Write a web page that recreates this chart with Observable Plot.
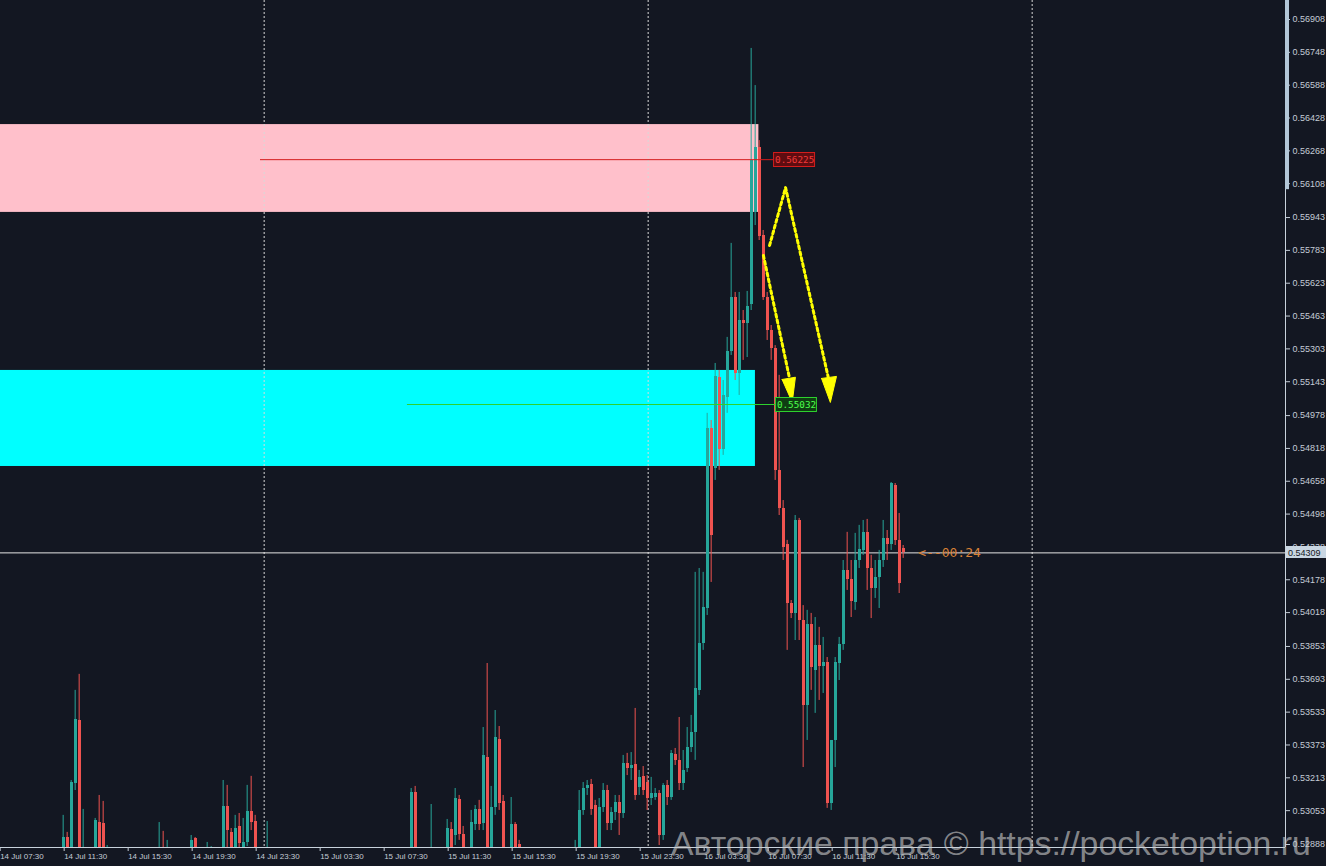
<!DOCTYPE html>
<html><head><meta charset="utf-8">
<script src="https://cdn.jsdelivr.net/npm/d3@7"></script>
<script src="https://cdn.jsdelivr.net/npm/@observablehq/plot@0.6"></script>
<style>
html,body{margin:0;padding:0;background:#131722;}
#wrap{position:relative;width:1326px;height:866px;overflow:hidden;background:#131722;}
#wm{position:absolute;left:671px;top:826px;font:33.8px/34px "Liberation Sans",Arial,sans-serif;color:rgba(205,205,205,0.62);white-space:nowrap;pointer-events:none;}
</style></head><body><div id="wrap"><div id="wm">Авторские права © https://pocketoption.ru</div></div>
<script>
// ---- data ----
const barIdx = [15,16,17,18,19,20,23,24,25,26,39,40,41,47,48,51,52,55,56,57,58,59,60,61,62,63,66,
102,103,107,111,112,113,114,115,117,118,119,120,121,122,123,124,125,127,128,129,
143,144,145,146,147,148,149,150,151,152,153,154,155,156,157,158,159,160,161,162,163,164,165,166,167,168,169,170,
171,172,173,174,175,176,177,178,179,180,181,182,183,184,185,186,187,188,189,190,191,192,193,194,195,196,197,198,
199,200,201,202,203,204,205,206,207,208,209,210,211,212,213,214,215,216,217,218,219,220,221,222,223,224,225];
const open = [0.52859,0.52922,0.52859,0.53185,0.53492,0.52835,0.52810,0.52995,0.52991,0.52810,0.52810,0.52835,0.52780,0.52810,0.52917,0.52790,0.52790,0.52810,0.53073,0.52947,0.52835,0.52976,0.52859,0.52898,0.53049,0.53000,0.52790,
0.52810,0.53142,0.52790,0.52810,0.52961,0.52932,0.53107,0.52937,0.52810,0.52986,0.53059,0.52991,0.53312,0.52810,0.53068,0.53400,0.53098,0.52810,0.52986,0.52888,
0.52810,0.52810,0.53054,0.53161,0.53181,0.53078,0.52873,0.53068,0.53151,0.52991,0.53044,0.53093,0.53039,0.53283,0.53259,0.53278,0.53166,0.53220,0.53190,0.53112,0.53117,0.53137,0.52932,0.53176,0.53117,0.53327,0.53298,0.53185,
0.53259,0.53361,0.53434,0.53639,0.53868,0.54038,0.54915,0.54720,0.55164,0.54813,0.55066,0.55291,0.55554,0.55183,0.55442,0.55427,0.55519,0.55968,0.56284,0.55856,0.55554,0.55393,0.55305,0.54711,0.54525,0.54350,0.54063,0.54014,
0.54467,0.53980,0.53566,0.53960,0.53736,0.53858,0.53756,0.53775,0.53088,0.53395,0.53770,0.53863,0.54223,0.54180,0.54067,0.54272,0.54321,0.54409,0.54233,0.54136,0.54189,0.54272,0.54379,0.54350,0.54638,0.54370,0.54331];
const high = [0.53030,0.52947,0.53200,0.53639,0.53717,0.53059,0.53015,0.53127,0.53098,0.52883,0.52995,0.52952,0.52908,0.52932,0.52922,0.52898,0.52878,0.53200,0.53176,0.52966,0.53030,0.53039,0.53015,0.53176,0.53220,0.53030,0.53000,
0.53161,0.53171,0.53083,0.53010,0.52995,0.53161,0.53127,0.52976,0.53054,0.53078,0.53103,0.53458,0.53770,0.53171,0.53541,0.53463,0.53127,0.53117,0.52995,0.52908,
0.52908,0.53151,0.53190,0.53200,0.53205,0.53103,0.53112,0.53185,0.53176,0.53068,0.53127,0.53127,0.53322,0.53332,0.53336,0.53551,0.53249,0.53268,0.53224,0.53215,0.53161,0.53151,0.53185,0.53200,0.53346,0.53356,0.53507,0.53346,
0.53458,0.53517,0.54214,0.54233,0.54214,0.54989,0.54954,0.55232,0.55198,0.55149,0.55359,0.55817,0.55578,0.55578,0.55490,0.55583,0.56767,0.56586,0.56318,0.55880,0.55578,0.55417,0.55319,0.55174,0.54564,0.54370,0.54077,0.54491,
0.54477,0.54052,0.54029,0.54014,0.53994,0.53946,0.53897,0.53799,0.53395,0.53799,0.53897,0.54272,0.54409,0.54272,0.54404,0.54443,0.54467,0.54472,0.54297,0.54272,0.54321,0.54467,0.54418,0.54652,0.54647,0.54501,0.54345];
const low = [0.52810,0.52810,0.52810,0.53151,0.52762,0.52762,0.52762,0.52762,0.52762,0.52762,0.52762,0.52762,0.52762,0.52762,0.52762,0.52762,0.52762,0.52762,0.52859,0.52762,0.52762,0.52835,0.52810,0.52878,0.52956,0.52762,0.52762,
0.52762,0.52762,0.52762,0.52762,0.52762,0.52883,0.52908,0.52762,0.52762,0.52956,0.52956,0.52956,0.52762,0.52762,0.53030,0.53054,0.52762,0.52762,0.52762,0.52762,
0.52762,0.52762,0.53030,0.53127,0.53030,0.52762,0.52810,0.53044,0.52956,0.52956,0.53005,0.52932,0.53015,0.53224,0.53200,0.53103,0.53127,0.53127,0.53054,0.53078,0.53103,0.52883,0.52908,0.53078,0.53103,0.53273,0.53151,0.53151,
0.53239,0.53336,0.53298,0.53614,0.53834,0.54004,0.54165,0.54662,0.54711,0.54784,0.54989,0.55271,0.55149,0.55076,0.55247,0.55261,0.55490,0.55904,0.55831,0.55539,0.55344,0.55247,0.54662,0.54491,0.54272,0.53834,0.53989,0.53882,
0.53882,0.53263,0.53395,0.53639,0.53527,0.53590,0.53624,0.53064,0.53054,0.53263,0.53687,0.53834,0.54126,0.53994,0.54029,0.54233,0.54297,0.54126,0.53989,0.54087,0.54038,0.54238,0.54272,0.54321,0.54345,0.54111,0.54282];
const close = [0.52922,0.52859,0.53190,0.53497,0.52810,0.52859,0.53005,0.52810,0.52810,0.52859,0.52835,0.52810,0.52800,0.52908,0.52810,0.52810,0.52810,0.53073,0.52956,0.52810,0.52966,0.52893,0.52898,0.53049,0.52995,0.52810,0.52810,
0.53142,0.52810,0.52810,0.52966,0.52810,0.53112,0.52937,0.52810,0.52995,0.53059,0.52986,0.53322,0.52810,0.53068,0.53410,0.53088,0.52810,0.52986,0.52810,0.52810,
0.52859,0.53054,0.53161,0.53176,0.53059,0.52873,0.53068,0.53151,0.52991,0.53044,0.53093,0.53039,0.53283,0.53259,0.53273,0.53127,0.53215,0.53151,0.53112,0.53137,0.53137,0.52932,0.53176,0.53117,0.53332,0.53298,0.53185,0.53249,
0.53361,0.53434,0.53648,0.53868,0.54043,0.54915,0.54394,0.55169,0.54813,0.55076,0.55291,0.55554,0.55183,0.55442,0.55427,0.55510,0.56221,0.56284,0.55851,0.55554,0.55393,0.55305,0.54711,0.54525,0.54336,0.54063,0.54014,0.54467,
0.53980,0.53566,0.53960,0.53751,0.53858,0.53756,0.53775,0.53088,0.53395,0.53775,0.53863,0.54223,0.54180,0.54072,0.54272,0.54326,0.54409,0.54233,0.54136,0.54189,0.54272,0.54379,0.54350,0.54647,0.54370,0.54160,0.54309];

const yTicks = [0.56908,0.56748,0.56588,0.56428,0.56268,0.56108,0.55943,0.55783,0.55623,0.55463,0.55303,0.55143,0.54978,
  0.54818,0.54658,0.54498,0.54338,0.54178,0.54018,0.53853,0.53693,0.53533,0.53373,0.53213,0.53053,0.52888];
const xTickLabels = ["14 Jul 07:30","14 Jul 11:30","14 Jul 15:30","14 Jul 19:30","14 Jul 23:30","15 Jul 03:30","15 Jul 07:30",
  "15 Jul 11:30","15 Jul 15:30","15 Jul 19:30","15 Jul 23:30","16 Jul 03:30","16 Jul 07:30","16 Jul 11:30","16 Jul 15:30"];
const daySeparators = ["2021-07-15T00:00Z","2021-07-16T00:00Z","2021-07-17T00:00Z"];
const currentPrice = 0.54309;
const timerText = "<--00:24";
const resistance = {from:"2021-07-14T23:35Z", to:"2021-07-16T07:39Z", price:0.56225};
const support = {from:"2021-07-15T08:46Z", to:"2021-07-16T07:46Z", price:0.55032};
const sellZone = {from:"2021-07-14T00:00Z", to:"2021-07-16T06:44Z", top:0.56396, bottom:0.55968};
const buyZone = {from:"2021-07-14T00:00Z", to:"2021-07-16T06:31Z", top:0.55198, bottom:0.54730};
const arrowPeak = [["2021-07-16T07:24Z",0.55807],["2021-07-16T08:24Z",0.56089],["2021-07-16T11:05Z",0.55159]];
const arrowDirect = [["2021-07-16T07:01Z",0.55758],["2021-07-16T08:39Z",0.55159]];
const headDirect = [["2021-07-16T08:11Z",0.55154],["2021-07-16T09:01Z",0.55165],["2021-07-16T08:49Z",0.55043],["2021-07-16T08:11Z",0.55154]];
const headPeak = [["2021-07-16T10:39Z",0.55159],["2021-07-16T11:35Z",0.55169],["2021-07-16T11:12Z",0.55042],["2021-07-16T10:39Z",0.55159]];

// ---- build ----
const M = 60000;
const start = Date.UTC(2021, 6, 14, 7, 30);
const barTime = i => new Date(start + i * 15 * M);
const candles = barIdx.map((b, k) => ({t: barTime(b), o: open[k], h: high[k], l: low[k], c: close[k], up: close[k] >= open[k]}));
const months = {Jul: 6};
const xTicks = xTickLabels.map(s => { const [d, mo, hm] = s.split(" "); const [hh, mm] = hm.split(":"); return new Date(Date.UTC(2021, months[mo], +d, +hh, +mm)); });
const labelOf = new Map(xTicks.map((t, i) => [+t, xTickLabels[i]]));
const W = 1326, H = 866, mR = 41, mB = 19;
const pxPerBar = 4;
const T0 = new Date(start - 10 * M);
const T1 = new Date(+T0 + (W - mR) / pxPerBar * 15 * M);
const Y0 = 0.528734, Y1 = 0.570006;
const pts = a => a.map(([t, p]) => ({t: new Date(t), p}));
const BULL = "#26a69a", BEAR = "#ef5350";

const plot = Plot.plot({
  width: W, height: H, marginLeft: 0, marginRight: mR, marginTop: 0, marginBottom: mB,
  style: {background: "#131722", color: "#c4ccd6", fontFamily: "'Liberation Sans', Arial, sans-serif"},
  x: {type: "utc", domain: [T0, T1], label: null},
  y: {domain: [Y0, Y1], label: null},
  marks: [
    Plot.rect([sellZone], {x1: d => new Date(d.from), x2: d => new Date(d.to), y1: "bottom", y2: "top", fill: "#ffc0cb", clip: true}),
    Plot.rect([buyZone], {x1: d => new Date(d.from), x2: d => new Date(d.to), y1: "bottom", y2: "top", fill: "#00ffff", clip: true}),
    Plot.ruleX(daySeparators.map(s => new Date(s)), {stroke: "#d8d8d8", strokeDasharray: "2,2", dx: -3}),
    Plot.ruleY([currentPrice], {stroke: "#e6e6e6", strokeWidth: 1}),
    Plot.ruleX(candles, {x: "t", y1: "l", y2: "h", stroke: d => d.up ? BULL : BEAR, strokeWidth: 1, clip: true}),
    Plot.ruleX(candles, {x: "t", y1: "o", y2: d => Math.abs(d.c - d.o) < 0.00003 ? d.o + (d.up ? 0.00004 : -0.00004) : d.c, stroke: d => d.up ? BULL : BEAR, strokeWidth: 3, clip: true, shapeRendering: "crispEdges"}),
    Plot.ruleY([resistance], {y: "price", x1: d => new Date(d.from), x2: d => new Date(d.to), stroke: "#d41c1c"}),
    Plot.ruleY([support], {y: "price", x1: d => new Date(d.from), x2: d => new Date(d.to), stroke: "#2ed12e"}),
    Plot.line(pts(arrowPeak), {x: "t", y: "p", stroke: "#ffff00", strokeWidth: 3, strokeDasharray: "3,3"}),
    Plot.line(pts(arrowDirect), {x: "t", y: "p", stroke: "#ffff00", strokeWidth: 3, strokeDasharray: "3,3"}),
    Plot.line(pts(headDirect), {x: "t", y: "p", stroke: "#ffff00", fill: "#ffff00", strokeWidth: 1}),
    Plot.line(pts(headPeak), {x: "t", y: "p", stroke: "#ffff00", fill: "#ffff00", strokeWidth: 1}),
    Plot.text([{t: candles[candles.length - 1].t, p: currentPrice}], {x: "t", y: "p", text: () => timerText, dx: 15, textAnchor: "start",
      fill: "#d98035", fontFamily: "'DejaVu Sans Mono', monospace", fontSize: 13}),
    Plot.ruleX([T1], {stroke: "#c8d2dc"}),
    Plot.ruleY([Y0], {stroke: "#c8d2dc"}),
    Plot.axisY(yTicks, {anchor: "right", label: null, tickSize: 4, tickPadding: 3, fontSize: 9, tickFormat: d => d.toFixed(5)}),
    Plot.axisX(xTicks, {anchor: "bottom", label: null, tickSize: 4, tickPadding: 2, fontSize: 8, textAnchor: "start", dx: -3, tickFormat: d => labelOf.get(+d)})
  ]
});
document.getElementById("wrap").prepend(plot);

const sx = plot.scale("x"), sy = plot.scale("y");
const svg = d3.select(plot);
const g = svg.append("g").attr("text-anchor", "start");
function lineLabel(obj, fill, stroke, color) {
  const x = sx.apply(new Date(obj.to)), y = sy.apply(obj.price);
  g.append("rect").attr("x", x + 0.5).attr("y", Math.round(y) - 6.5).attr("width", 41).attr("height", 14)
    .attr("fill", fill).attr("stroke", stroke).attr("stroke-width", 1);
  g.append("text").attr("x", x + 2).attr("y", Math.round(y) + 4).attr("fill", color).attr("text-anchor", "start")
    .attr("font-family", "'DejaVu Sans Mono', monospace").attr("font-size", 9.3).text(obj.price.toFixed(5));
}
lineLabel(resistance, "#5e0c10", "#d41c1c", "#f03a3a");
lineLabel(support, "#0f3d12", "#2ed12e", "#4cff4c");
// current price tag on the axis
{
  const y = Math.round(sy.apply(currentPrice));
  const x = sx.apply(T1);
  g.append("rect").attr("x", x + 1).attr("y", y - 6).attr("width", W - x).attr("height", 12).attr("fill", "#c9d6e2");
  g.append("text").attr("x", x + 3).attr("y", y + 3.5).attr("fill", "#131722").attr("font-size", 9).attr("text-anchor", "start")
    .attr("font-family", "'Liberation Sans', Arial, sans-serif").text(currentPrice.toFixed(5));
  // scroll indicator on the price axis
  g.append("rect").attr("x", x).attr("y", 0).attr("width", 4).attr("height", sy.apply(0.56108) + 6).attr("fill", "#b3c7d8");
}
</script></body></html>
